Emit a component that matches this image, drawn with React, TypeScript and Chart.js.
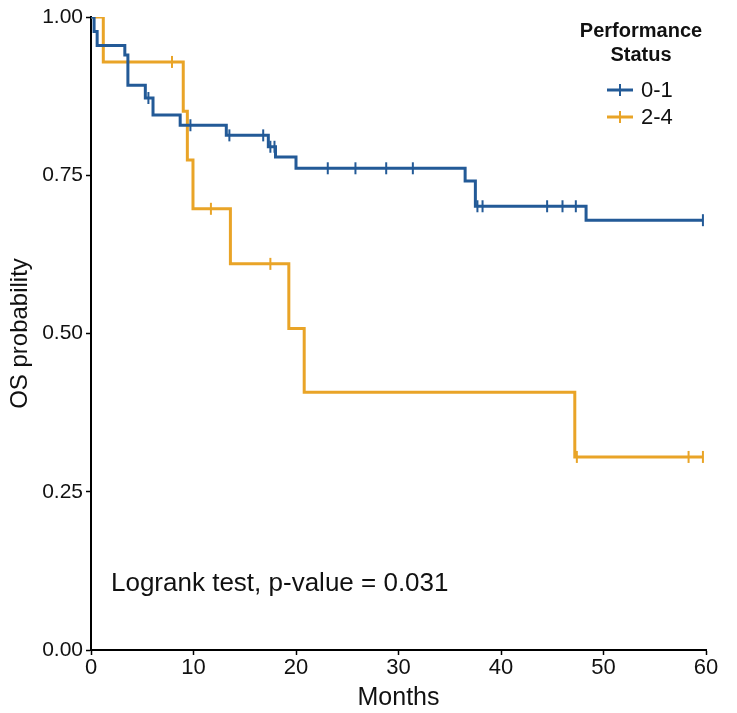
import React, { useEffect, useRef } from "react";
import { Chart, registerables } from "chart.js";
Chart.register(...registerables);

const groupLabels = ["0-1", "2-4"];
const legendTitle = ["Performance", "Status"];
const pText = "Logrank test, p-value = 0.031";

const blueTimes = [0, 0.3, 0.6, 3.3, 3.6, 5.3, 6.05, 8.7, 13.2, 17.3, 18.0, 20.0, 36.5, 37.5, 48.3, 59.7];
const blueSurv = [1, 0.977, 0.955, 0.94, 0.892, 0.872, 0.845, 0.829, 0.813, 0.795, 0.779, 0.761, 0.741, 0.701, 0.679, 0.679];
const blueCensor = [5.6, 9.7, 13.5, 16.8, 17.5, 17.9, 23.1, 25.8, 28.8, 31.4, 37.7, 38.2, 44.5, 46.0, 47.3, 59.7];

const orangeTimes = [0, 1.2, 9.0, 9.4, 9.95, 13.6, 19.3, 20.8, 47.2, 59.7];
const orangeSurv = [1, 0.929, 0.851, 0.774, 0.697, 0.61, 0.508, 0.407, 0.305, 0.305];
const orangeCensor = [7.9, 11.7, 17.5, 47.4, 58.3, 59.7];

const xTicks = [0, 10, 20, 30, 40, 50, 60];
const yTicks = [0, 0.25, 0.5, 0.75, 1.0];

const BLUE = "#235A97";
const ORANGE = "#E9A427";
const FONT = "'Liberation Sans', Arial, sans-serif";

function survAt(times: number[], surv: number[], t: number) {
  let v = surv[0];
  for (let i = 0; i < times.length; i++) if (times[i] <= t) v = surv[i];
  return v;
}

export default function App() {
  const ref = useRef<HTMLCanvasElement | null>(null);
  useEffect(() => {
    if (!ref.current) return;
    const overlay = {
      id: "overlay",
      afterDraw(chart: any) {
        const ctx = chart.ctx;
        const xs = chart.scales.x;
        const ys = chart.scales.y;
        ctx.save();
        ctx.fillStyle = "#111";
        ctx.font = `26px ${FONT}`;
        ctx.textAlign = "left";
        ctx.textBaseline = "middle";
        ctx.fillText(pText, xs.getPixelForValue(1.95), ys.getPixelForValue(0.105));
        // legend
        ctx.font = `bold 20px ${FONT}`;
        ctx.textAlign = "center";
        ctx.fillText(legendTitle[0], 641, 31);
        ctx.fillText(legendTitle[1], 641, 55);
        const cols = [BLUE, ORANGE];
        groupLabels.forEach((lab, i) => {
          const y = 90 + i * 27;
          ctx.strokeStyle = cols[i];
          ctx.lineWidth = 3;
          ctx.beginPath();
          ctx.moveTo(607, y);
          ctx.lineTo(633, y);
          ctx.stroke();
          ctx.lineWidth = 2;
          ctx.beginPath();
          ctx.moveTo(620, y - 6);
          ctx.lineTo(620, y + 6);
          ctx.stroke();
          ctx.fillStyle = "#111";
          ctx.font = `22px ${FONT}`;
          ctx.textAlign = "left";
          ctx.fillText(lab, 641, y + 1);
        });
        ctx.restore();
      },
    };
    const chart = new Chart(ref.current, {
      type: "scatter",
      data: {
        datasets: [
          {
            label: groupLabels[0],
            data: blueTimes.map((t, i) => ({ x: t, y: blueSurv[i] })),
            showLine: true,
            stepped: true,
            borderColor: BLUE,
            borderWidth: 3,
            pointRadius: 0,
          },
          {
            label: groupLabels[1],
            data: orangeTimes.map((t, i) => ({ x: t, y: orangeSurv[i] })),
            showLine: true,
            stepped: true,
            borderColor: ORANGE,
            borderWidth: 3,
            pointRadius: 0,
          },
          {
            label: groupLabels[0] + " censored",
            data: blueCensor.map((t) => ({ x: t, y: survAt(blueTimes, blueSurv, t) })),
            pointStyle: "line",
            rotation: 90,
            pointRadius: 6,
            borderColor: BLUE,
            backgroundColor: BLUE,
            pointBorderWidth: 2,
          } as any,
          {
            label: groupLabels[1] + " censored",
            data: orangeCensor.map((t) => ({ x: t, y: survAt(orangeTimes, orangeSurv, t) })),
            pointStyle: "line",
            rotation: 90,
            pointRadius: 6,
            borderColor: ORANGE,
            backgroundColor: ORANGE,
            pointBorderWidth: 2,
          } as any,
        ],
      },
      options: {
        animation: false,
        responsive: false,
        layout: { padding: { left: 0, right: 31, top: 17, bottom: 0 } },
        plugins: { legend: { display: false }, tooltip: { enabled: false } },
        scales: {
          x: {
            type: "linear",
            min: 0,
            max: 60,
            afterBuildTicks: (s: any) => {
              s.ticks = xTicks.map((v) => ({ value: v }));
            },
            afterFit: (s: any) => {
              s.height = 63;
            },
            grid: { drawOnChartArea: false, drawTicks: true, tickLength: 5, color: "#000", tickWidth: 1.5 },
            border: { display: true, color: "#000", width: 2 },
            ticks: { color: "#111", font: { family: FONT, size: 22 }, padding: 0, maxRotation: 0 },
            title: { display: true, text: "Months", color: "#111", font: { family: FONT, size: 25 }, padding: { top: 0, bottom: 0 } },
          },
          y: {
            type: "linear",
            min: 0,
            max: 1,
            afterBuildTicks: (s: any) => {
              s.ticks = yTicks.map((v) => ({ value: v }));
            },
            afterFit: (s: any) => {
              s.width = 91;
            },
            grid: { drawOnChartArea: false, drawTicks: true, tickLength: 5, color: "#000", tickWidth: 1.5 },
            border: { display: true, color: "#000", width: 2 },
            ticks: {
              color: "#111",
              font: { family: FONT, size: 21 },
              padding: 3,
              callback: (v: any) => Number(v).toFixed(2),
            },
            title: { display: true, text: "OS probability", color: "#111", font: { family: FONT, size: 24 }, padding: { top: 6, bottom: 0 } },
          },
        },
      },
      plugins: [overlay],
    });
    return () => chart.destroy();
  }, []);
  return (
    <div style={{ position: "fixed", left: 0, top: 0, width: 737, height: 713, background: "#fff" }}>
      <canvas ref={ref} width={737} height={713} style={{ display: "block" }} />
    </div>
  );
}
